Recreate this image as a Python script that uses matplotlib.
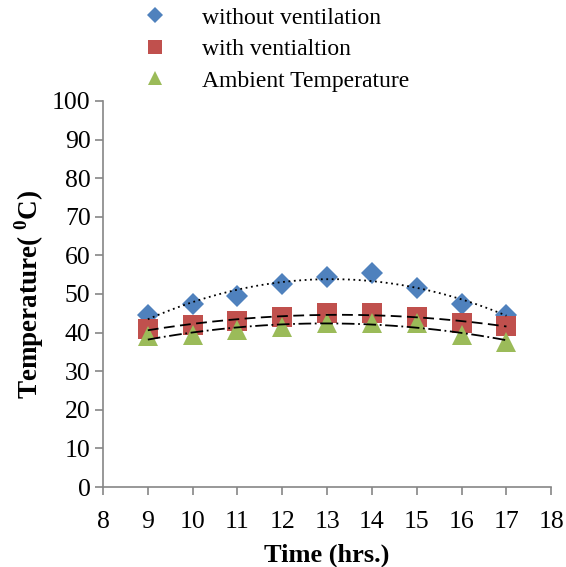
import numpy as np
import matplotlib.pyplot as plt
from matplotlib.lines import Line2D

plt.rcParams['font.family'] = ['Liberation Serif', 'DejaVu Serif']
plt.rcParams['mathtext.fontset'] = 'custom'
plt.rcParams['mathtext.rm'] = 'Liberation Serif'
plt.rcParams['mathtext.bf'] = 'Liberation Serif:bold'

# data
hours = [9, 10, 11, 12, 13, 14, 15, 16, 17]
without_vent = [44.5, 47.5, 49.5, 52.5, 54.3, 55.5, 51.5, 47.5, 44.5]
with_vent = [41, 42, 43, 44, 45, 45, 44, 42.5, 41.7]
ambient = [39, 39.5, 40.8, 41.5, 42.5, 42.5, 42.5, 39.5, 37.6]

names = ['without ventilation', 'with ventialtion', 'Ambient Temperature']
colors = ['#4F81BD', '#C0504D', '#9BBB59']
markers = ['D', 's', '^']
msizes = [11, 14.5, 14.5]
trend_styles = [(0, (1, 2)), (0, (6, 3)), (0, (7, 2, 1, 2))]

fig = plt.figure(figsize=(5.66, 5.67), dpi=100)
ax = fig.add_axes([0.182, 0.141, 0.792, 0.681])

series = [without_vent, with_vent, ambient]
x = np.array(hours)
xs = np.linspace(9, 17, 200)
for vals, c, m, ms in zip(series, colors, markers, msizes):
    ax.plot(hours, vals, linestyle='none', marker=m, markersize=ms,
            color=c, markeredgewidth=0, zorder=3)
# second order trendlines, drawn above markers like Excel does
for vals, ls in zip(series, trend_styles):
    coef = np.polyfit(x, vals, 2)
    ax.plot(xs, np.polyval(coef, xs), color='black', linestyle=ls,
            linewidth=1.3, zorder=4)

ax.set_xlim(8, 18)
ax.set_ylim(0, 100)
ax.set_xticks(range(8, 19))
ax.set_yticks(range(0, 101, 10))
ax.tick_params(labelsize=18.5, color='#868686', length=6, width=1.2,
               direction='out')
ax.tick_params(axis='x', pad=11)
ax.tick_params(axis='y', pad=3)

for s in ['top', 'right']:
    ax.spines[s].set_visible(False)
for s in ['left', 'bottom']:
    ax.spines[s].set_color('#868686')
    ax.spines[s].set_linewidth(1.2)

ax.set_xlabel('Time (hrs.)', fontsize=19, fontweight='bold', labelpad=8)
ax.set_ylabel(r'Temperature( $^{\mathbf{0}}$C)', fontsize=19.5,
              fontweight='bold', labelpad=4)

handles = [Line2D([], [], linestyle='none', marker=m, color=c,
                  markersize=ms * 0.72, markeredgewidth=0)
           for c, m, ms in zip(colors, markers, msizes)]
fig.legend(handles, names, loc='upper left', bbox_to_anchor=(0.228, 1.004),
           frameon=False, fontsize=17, handletextpad=1.3, handlelength=1.4,
           labelspacing=0.42, borderaxespad=0)

fig.savefig('out.png', dpi=100)
